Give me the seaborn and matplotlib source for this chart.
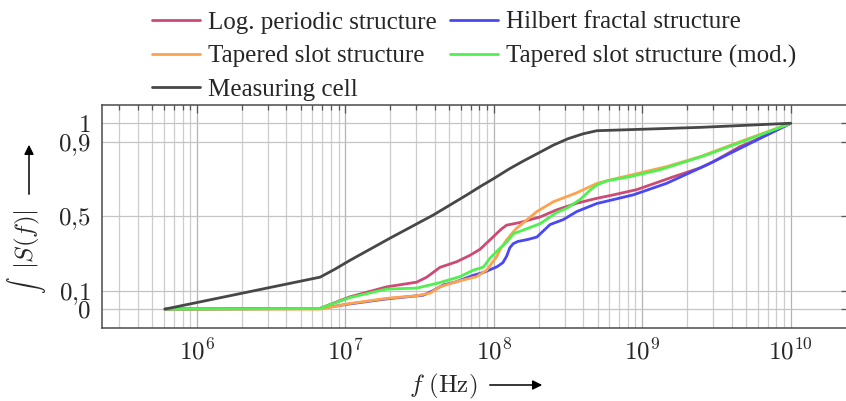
import numpy as np
import pandas as pd
import seaborn as sns
import matplotlib.pyplot as plt
from matplotlib.ticker import FixedLocator, FixedFormatter, NullFormatter

# values (frequency in Hz, normalised integral)
log_f = [6.08e5, 6.75e6, 1.07e7, 1.9e7, 3.02e7, 3.53e7, 4.34e7, 5.62e7, 6.92e7, 8.07e7,
         9.93e7, 1.12e8, 1.22e8, 1.5e8, 2.05e8, 2.65e8, 3.62e8, 4.93e8, 6.4e8, 9.18e8,
         1.62e9, 2.45e9, 3.01e9, 4.56e9, 5.61e9, 1e10]
log_s = [0.0, 0.004, 0.066, 0.12, 0.145, 0.172, 0.225, 0.255, 0.29, 0.322,
         0.39, 0.43, 0.452, 0.466, 0.496, 0.534, 0.57, 0.596, 0.615, 0.643,
         0.712, 0.76, 0.793, 0.875, 0.905, 1.0]

hil_f = [6.08e5, 6.75e6, 1.07e7, 1.9e7, 3.35e7, 3.91e7, 4.57e7, 5.62e7, 7.28e7, 8.49e7,
         1.05e8, 1.15e8, 1.22e8, 1.28e8, 1.35e8, 1.45e8, 1.7e8, 1.95e8, 2.15e8, 2.39e8,
         2.94e8, 3.62e8, 4.93e8, 8.71e8, 1.46e9, 2.72e9, 5.06e9, 1e10]
hil_s = [0.0, 0.003, 0.028, 0.055, 0.075, 0.1, 0.13, 0.148, 0.182, 0.197,
         0.228, 0.25, 0.285, 0.33, 0.352, 0.364, 0.375, 0.388, 0.42, 0.455,
         0.482, 0.525, 0.568, 0.615, 0.677, 0.776, 0.883, 1.0]

tap_f = [6.08e5, 6.75e6, 1.07e7, 1.9e7, 3.02e7, 3.72e7, 4.34e7, 5.62e7, 7.67e7, 8.95e7,
         1.05e8, 1.1e8, 1.22e8, 1.4e8, 1.95e8, 2.52e8, 3.62e8, 4.93e8, 6.07e8, 1.46e9,
         2.45e9, 4.56e9, 1e10]
tap_s = [0.0, 0.0, 0.03, 0.058, 0.072, 0.086, 0.12, 0.148, 0.175, 0.21,
         0.285, 0.32, 0.373, 0.43, 0.525, 0.578, 0.626, 0.676, 0.695, 0.767,
         0.82, 0.901, 1.0]

mod_f = [6.08e5, 6.75e6, 1.07e7, 1.9e7, 3.02e7, 4.34e7, 5.92e7, 7.28e7, 8.49e7, 9.42e7,
         1.1e8, 1.22e8, 1.35e8, 2.05e8, 2.65e8, 3.1e8, 3.81e8, 4.45e8, 4.93e8, 5.77e8,
         8.28e8, 1.32e9, 2.72e9, 5.06e9, 1e10]
mod_s = [0.0, 0.004, 0.062, 0.108, 0.113, 0.143, 0.175, 0.21, 0.226, 0.274,
         0.328, 0.36, 0.405, 0.46, 0.52, 0.543, 0.59, 0.64, 0.668, 0.69,
         0.713, 0.75, 0.83, 0.91, 1.0]

cell_f = [6.08e5, 6.75e6, 8.5e6, 1.07e7, 2.0e7, 3.92e7, 6.56e7, 8.07e7, 1.0e8, 1.26e8,
          1.58e8, 2.0e8, 2.51e8, 3.16e8, 3.98e8, 4.94e8, 2.45e9, 1e10]
cell_s = [0.0, 0.172, 0.215, 0.262, 0.382, 0.507, 0.614, 0.659, 0.703, 0.753,
          0.797, 0.84, 0.882, 0.917, 0.943, 0.96, 0.978, 1.0]

names = ["Log. periodic structure", "Hilbert fractal structure", "Tapered slot structure",
         "Tapered slot structure (mod.)", "Measuring cell"]
colors = ["#cc4a74", "#4848f5", "#ffa24e", "#4ff04f", "#474747"]

y_ticks = [0, 0.1, 0.5, 0.9, 1]
y_labels = ["$0$", "$0{,}1$", "$0{,}5$", "$0{,}9$", "$1$"]
x_ticks = [1e6, 1e7, 1e8, 1e9, 1e10]
x_labels = ["$10^{6}$", "$10^{7}$", "$10^{8}$", "$10^{9}$", "$10^{10}$"]

frames = []
for n, f, s in zip(names, [log_f, hil_f, tap_f, mod_f, cell_f], [log_s, hil_s, tap_s, mod_s, cell_s]):
    frames.append(pd.DataFrame({"freq": f, "val": s, "series": n}))
df = pd.concat(frames, ignore_index=True)

sns.set_style("white")
plt.rcParams["font.family"] = ["Liberation Serif", "DejaVu Serif"]
plt.rcParams["mathtext.fontset"] = "cm"

W, H = 846, 401
fig = plt.figure(figsize=(W / 100, H / 100), dpi=100)
left, right, top, bottom = 101.7, 849, 104.7, 327.7
ax = fig.add_axes([left / W, 1 - bottom / H, (right - left) / W, (bottom - top) / H])

sns.lineplot(data=df, x="freq", y="val", hue="series", hue_order=names, palette=colors,
             estimator=None, sort=False, lw=2, legend=False, ax=ax)

ax.set_xscale("log")
ax.set_xlim(2.28e5, 2.47e10)
ax.set_ylim(-0.1, 1.1)
ax.set_xlabel("")
ax.set_ylabel("")

ax.xaxis.set_major_locator(FixedLocator(x_ticks))
ax.xaxis.set_major_formatter(FixedFormatter(x_labels))
minor = [m * 10.0 ** e for e in range(5, 10) for m in range(2, 10) if m * 10.0 ** e > 2.28e5]
ax.xaxis.set_minor_locator(FixedLocator(minor))
ax.xaxis.set_minor_formatter(NullFormatter())
ax.yaxis.set_major_locator(FixedLocator(y_ticks))
ax.yaxis.set_major_formatter(FixedFormatter(y_labels))

ax.set_axisbelow(True)
ax.grid(which="major", axis="x", color="#b4b4b4", lw=0.9)
ax.grid(which="minor", axis="x", color="#cdcdcd", lw=0.9)
ax.grid(which="major", axis="y", color="#c4c4c4", lw=0.9)

ax.tick_params(which="both", direction="in", top=True, right=True, color="#555555", width=0.9)
ax.tick_params(which="major", length=6)
ax.tick_params(which="minor", length=3.5)
ax.tick_params(axis="x", labelsize=18, pad=8)
ax.tick_params(axis="y", labelsize=18, pad=8)
for sp in ax.spines.values():
    sp.set_color("#4a4a4a")
    sp.set_linewidth(1.1)

order = [0, 2, 4, 1, 3]
lines = ax.get_lines()
fig.legend([lines[i] for i in order], [names[i] for i in order], ncol=2,
           loc="upper left", bbox_to_anchor=(152 / W, 1 - 11 / H), frameon=False,
           fontsize=18, handlelength=1.9, handletextpad=0.32, columnspacing=0.56,
           labelspacing=0.45, borderpad=0, borderaxespad=0)

# axis labels with arrows
fig.text(27 / W, 1 - 285 / H, r"$\int$", rotation=90, ha="center", va="center", fontsize=12)
fig.text(27 / W, 1 - 239 / H, r"$|S(f)|$", rotation=90, ha="center", va="center", fontsize=18)
ax.annotate("", xy=(29 / W, 1 - 142 / H), xytext=(29 / W, 1 - 197 / H), xycoords="figure fraction",
            textcoords="figure fraction",
            arrowprops=dict(arrowstyle="-|>", color="black", lw=1.1, mutation_scale=14))
fig.text(443 / W, 1 - 386 / H, r"$f\ (\mathrm{Hz})$", ha="center", va="center", fontsize=18)
ax.annotate("", xy=(545 / W, 1 - 385 / H), xytext=(487 / W, 1 - 385 / H), xycoords="figure fraction",
            textcoords="figure fraction",
            arrowprops=dict(arrowstyle="-|>", color="black", lw=1.1, mutation_scale=14))

fig.savefig("out.png", dpi=100)
